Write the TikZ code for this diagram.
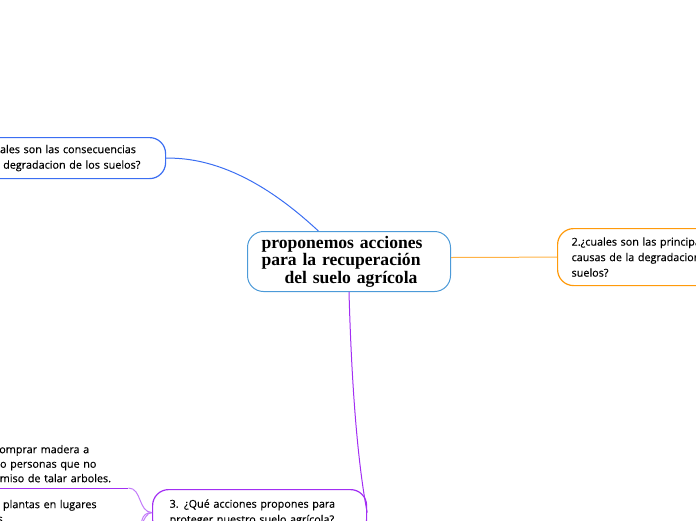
\documentclass[tikz,border=0pt]{standalone}
\usepackage{fontspec}
\setmainfont{Liberation Serif}
\setsansfont[FakeBold=0.3]{Open Sans}
\usetikzlibrary{calc}
\definecolor{azul}{HTML}{3B6EF2}
\definecolor{celeste}{HTML}{4C9AD8}
\definecolor{naranja}{HTML}{FF9A0A}
\definecolor{morado}{HTML}{A22EF3}
\definecolor{lila}{HTML}{C27AF9}

\begin{document}
\begin{tikzpicture}[x=1pt, y=-1pt,
    topic/.style={draw, rounded corners=16pt, line width=1.2pt, fill=white,
      anchor=north west, align=left, inner ysep=0pt,
      font=\sffamily\fontsize{10.8}{15.5}\selectfont},
    item/.style={anchor=south west, align=left, inner xsep=4pt, inner ysep=3pt,
      text width=180pt, font=\sffamily\fontsize{10.8}{14.5}\selectfont},
    conn/.style={line width=1pt}]
  \useasboundingbox (0,0) rectangle (696,520);
  \clip (0,0) rectangle (696,520);

  % central topic
  \node[topic, draw=celeste, line width=1pt, text width=175pt, inner xsep=14pt,
    minimum height=60pt, font=\bfseries\fontsize{17.6}{17.5}\selectfont]
    (central) at (247,231)
    {proponemos acciones\\para la recuperación\\\hspace*{23pt}del suelo agrícola};

  % main branches
  \node[topic, draw=azul, text width=178pt, inner xsep=13pt, minimum height=41pt]
    (cons) at (-39,137)
    {1.¿cuales son las consecuencias\\de la degradacion de los suelos?};
  \node[topic, draw=naranja, text width=200pt, inner xsep=14pt, minimum height=57pt]
    (causas) at (557,228)
    {2.¿cuales son las principales\\causas de la degradacion de los\\suelos?};
  \node[topic, draw=morado, text width=180pt, inner xsep=17pt, minimum height=46pt]
    (acciones) at (152,489)
    {3. ¿Qué acciones propones para\\proteger nuestro suelo agrícola?};

  % sub items of branch 3
  \node[item] (madera) at (-57,488)
    {Dejar de comprar madera a\\empresas o personas que no\\tienen permiso de talar arboles.};
  \node[item] (plantas) at (-48,526)
    {Sembrar plantas en lugares\\desiertos.};
  \coordinate (otro) at (128,548);

  % connectors
  \draw[conn, azul] (cons.east) .. controls (230,157) and (285,200)
    .. ($(central.north)!0.3!(central.north west)$);
  \draw[conn, naranja!75] ([yshift=4pt]central.east) -- (causas.west);
  \draw[conn, morado] (central.south) .. controls (352,400) and (359,470)
    .. (acciones.east);
  \draw[conn, morado] (madera.south west) -- ([xshift=-3pt]madera.south east);
  \draw[conn, lila] ([xshift=-3pt]madera.south east) .. controls (142,488) and (138,512)
    .. (acciones.west);
  \draw[conn, morado] (plantas.south west) -- (plantas.south east);
  \draw[conn, lila] (plantas.south east) .. controls (142,526) and (140,512)
    .. (acciones.west);
  \draw[conn, lila] (otro) .. controls (140,540) and (142,512) .. (acciones.west);
\end{tikzpicture}
\end{document}
